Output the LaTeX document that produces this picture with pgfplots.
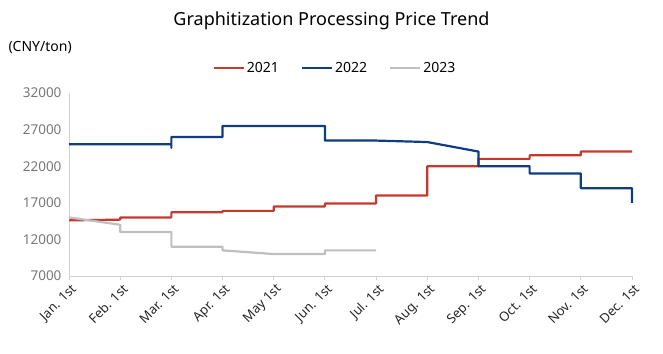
\documentclass[border=0pt]{standalone}
\usepackage{fontspec}
\setmainfont{Noto Sans}
\usepackage{pgfplots}
\pgfplotsset{compat=1.18}
\definecolor{cRed}{RGB}{196,58,46}
\definecolor{cBlue}{RGB}{16,61,128}
\definecolor{cGray}{RGB}{191,191,191}
\definecolor{cAxis}{RGB}{210,210,210}
\definecolor{cTick}{RGB}{120,120,120}
\begin{document}
\begin{tikzpicture}
\path[use as bounding box] (0pt,0pt) rectangle (663pt,353pt);
\node[font=\fontsize{18}{20}\selectfont] at (331.5pt,332pt) {Graphitization Processing Price Trend};
\node[anchor=west,font=\fontsize{14}{16}\selectfont] at (5pt,305pt) {(CNY/ton)};
\begin{axis}[
  at={(69pt,77pt)}, anchor=south west,
  scale only axis, width=563pt, height=183pt,
  xmin=0, xmax=11, ymin=7000, ymax=32000,
  axis x line=bottom, axis y line=left,
  axis line style={-, draw=cAxis, line width=1pt},
  xtick={0,...,11},
  xticklabels={Jan. 1st,Feb. 1st,Mar. 1st,Apr. 1st,May 1st,Jun. 1st,Jul. 1st,Aug. 1st,Sep. 1st,Oct. 1st,Nov. 1st,Dec. 1st},
  x tick label style={rotate=45, anchor=north east, font=\fontsize{13}{15}\selectfont, text=black!85, inner sep=1pt, yshift=-2pt},
  ytick={7000,12000,...,32000},
  y tick label style={font=\fontsize{13.5}{15}\selectfont, text=cTick},
  scaled y ticks=false,
  /pgf/number format/.cd, 1000 sep={}, assume math mode=true, /pgfplots/.cd,
  tick align=outside, major tick length=4pt,
  xtick style={draw=cAxis, line width=1pt},
  ytick style={draw=none},
  legend style={at={(0.4725,1.135)}, anchor=center, draw=none, fill=none,
     legend columns=3, font=\fontsize{14}{16}\selectfont,
     /tikz/every even column/.append style={column sep=20pt}},
  legend image code/.code={\draw[#1] (0pt,0pt) -- (30pt,0pt);},
  clip=false,
]
\addplot[cRed, line width=2.2pt, line join=round] coordinates {
(0,14600) (1,14700) (1,15000) (2,15000) (2,15700) (3,15700) (3,15900) (4,15900) (4,16500) (5,16500) (5,16900) (6,16900) (6,18000) (7,18000) (7,22000) (8,22000) (8,23000) (9,23000) (9,23500) (10,23500) (10,24000) (11,24000)};
\addlegendentry{2021}
\addplot[cBlue, line width=2.2pt, line join=round] coordinates {
(0,25000) (2,25000) (2,24500) (2,26000) (3,26000) (3,27500) (5,27500) (5,25500) (6,25500) (7,25300) (8,24000) (8,22000) (9,22000) (9,21000) (10,21000) (10,19000) (11,19000) (11,17000)};
\addlegendentry{2022}
\addplot[cGray, line width=2.2pt, line join=round] coordinates {
(0,15000) (1,14000) (1,13000) (2,13000) (2,11000) (3,11000) (3,10500) (4,10000) (5,10000) (5,10500) (6,10500)};
\addlegendentry{2023}
\end{axis}
\end{tikzpicture}
\end{document}
